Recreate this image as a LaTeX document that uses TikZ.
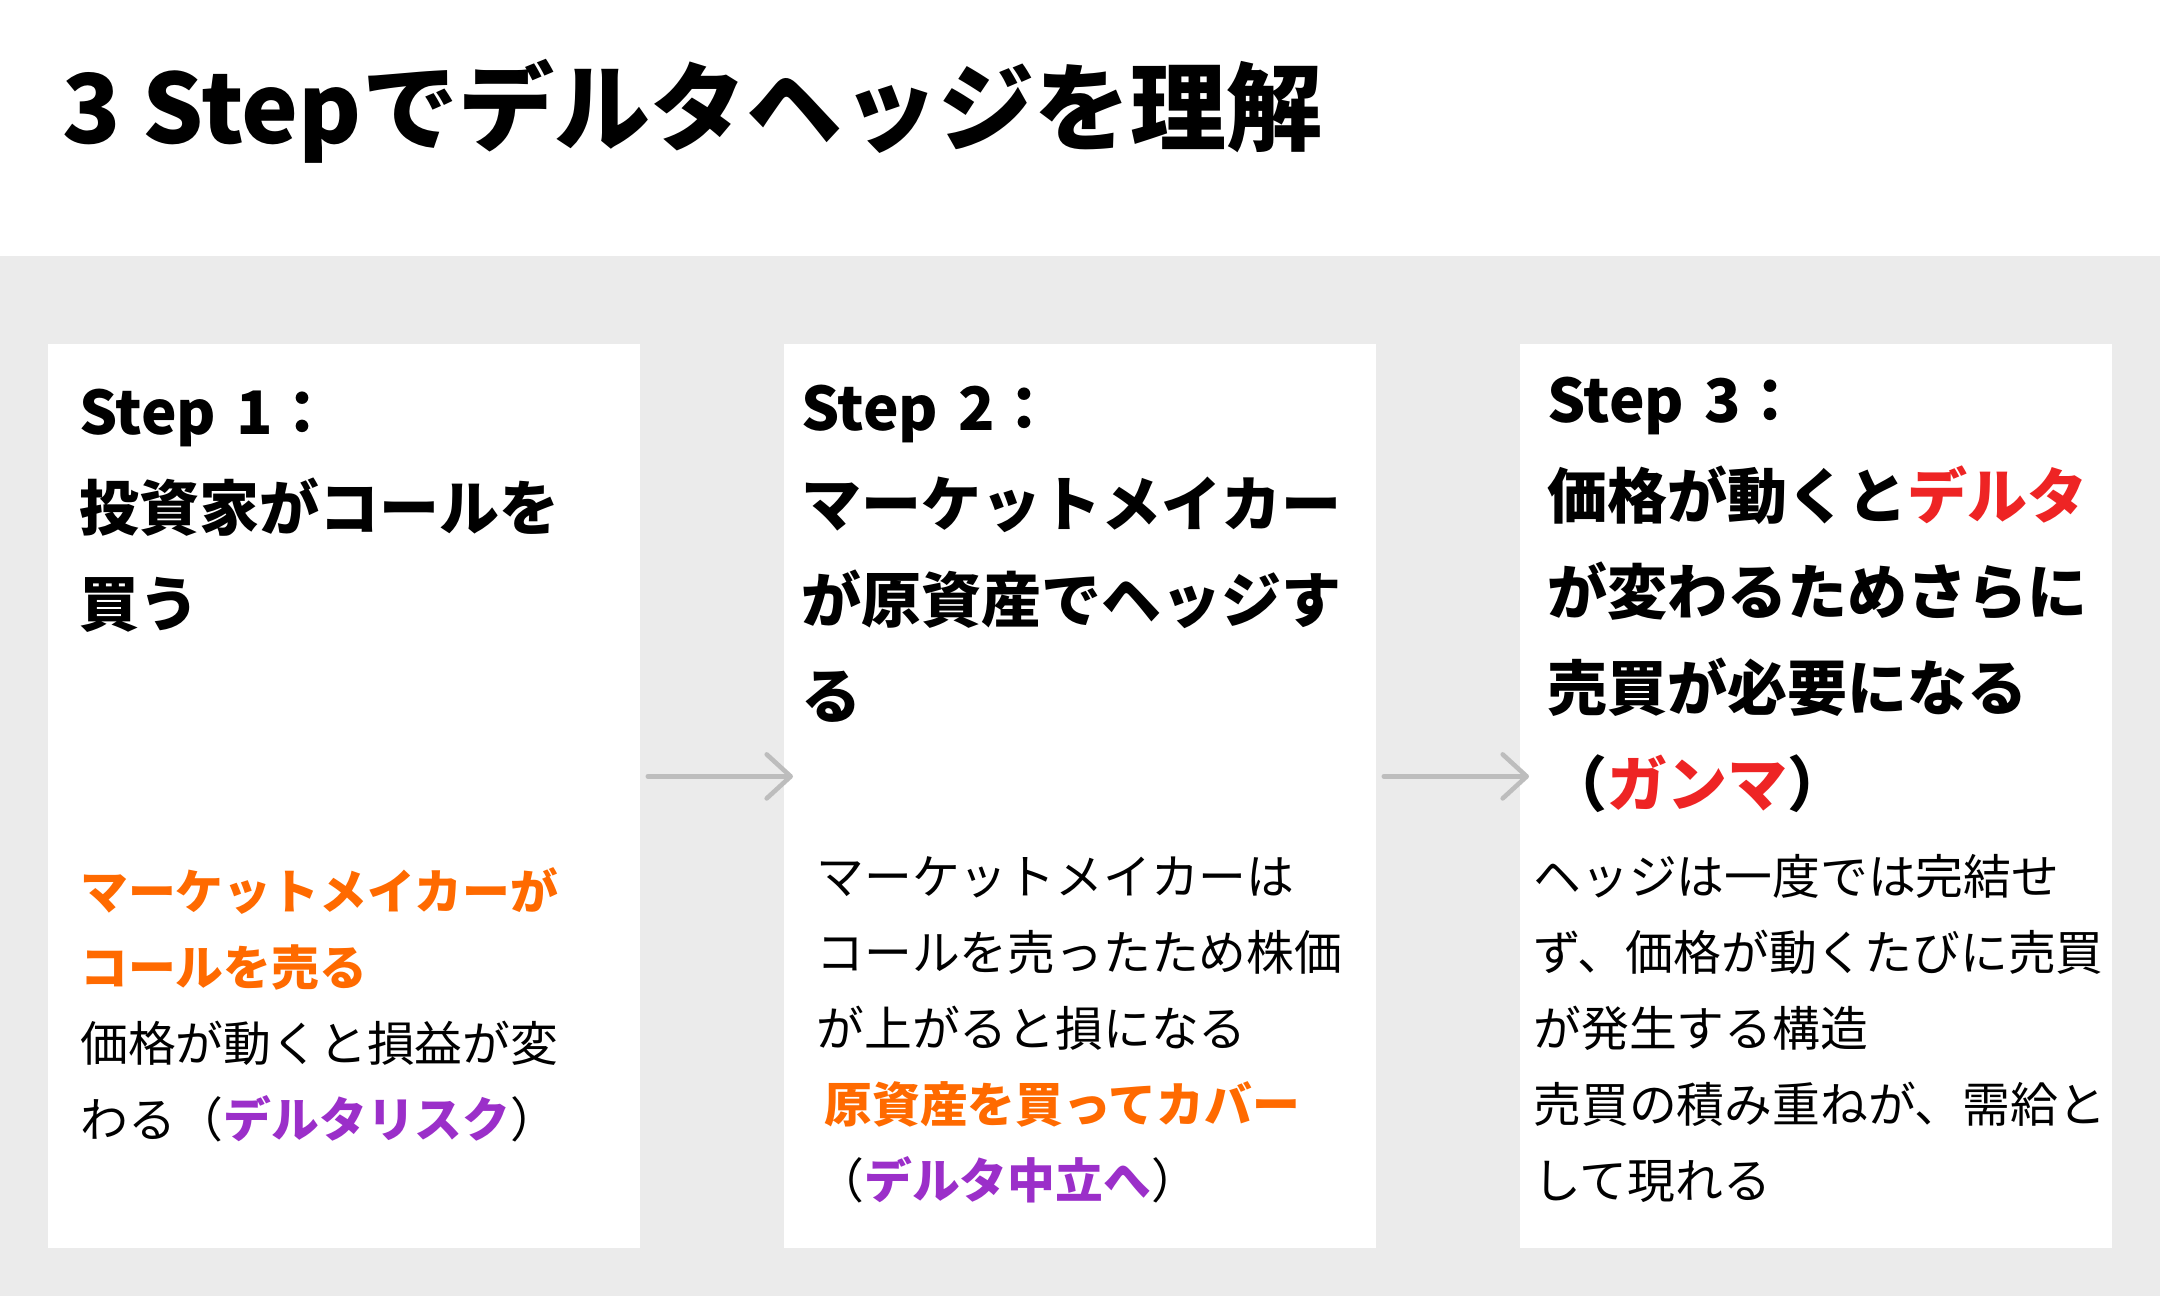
\documentclass[tikz,border=0pt]{standalone}
\usepackage{fontspec}
\setmainfont{Noto Sans CJK JP}
\usetikzlibrary{arrows.meta}

\definecolor{bandgray}{HTML}{EBEBEB}
\definecolor{arrowgray}{HTML}{BDBDBD}
\definecolor{hiorange}{HTML}{FF6A00}
\definecolor{hipurple}{HTML}{9B2FC9}
\definecolor{hired}{HTML}{EE2424}

\newcommand{\orng}[1]{\textbf{\color{hiorange}#1}}
\newcommand{\prpl}[1]{\textbf{\color{hipurple}#1}}
\newcommand{\rd}[1]{{\color{hired}#1}}

\tikzset{
  card/.style={fill=white, minimum width=296pt, minimum height=452pt, inner sep=0pt, anchor=north west},
  head/.style={anchor=base west, inner sep=0pt, text width=292pt, align=left,
    font=\fontsize{30pt}{48pt}\selectfont\bfseries},
  body/.style={anchor=base west, inner sep=0pt, text width=292pt, align=left,
    font=\fontsize{23.9pt}{38pt}\selectfont},
  flow/.style={draw=arrowgray, line width=2.3pt, line cap=round,
    -{Straight Barb[length=12pt, width=22pt, line cap=round, line join=round]}},
}

\begin{document}
\begin{tikzpicture}[x=0.5pt, y=-0.5pt]
  \useasboundingbox (0,0) rectangle (2160,1296);
  \fill[bandgray] (0,256) rectangle (2160,1296);
  \node[anchor=base west, inner sep=0pt, font=\fontsize{48pt}{48pt}\selectfont\bfseries] (title) at (62,143) {3 Stepでデルタヘッジを理解};

  % three cards
  \node[card] (c1) at (48,344) {};
  \node[card] (c2) at (784,344) {};
  \node[card] (c3) at (1520,344) {};

  \node[head] (h1) at (79,434) {Step 1：\\投資家がコールを\\買う};
  \node[body] (b1) at (80,909) {\orng{マーケットメイカーが}\\\orng{コールを売る}\\価格が動くと損益が変\\わる（\prpl{デルタリスク}）};

  \node[head] (h2) at (801,430) {Step 2：\\マーケットメイカー\\が原資産でヘッジす\\る};
  \node[body] (b2) at (816,894) {マーケットメイカーは\\コールを売ったため株価\\が上がると損になる\\\hspace{4pt}\orng{原資産を買ってカバー}\\（\prpl{デルタ中立へ}）};

  \node[head] (h3) at (1547,422) {Step 3：\\価格が動くと\rd{デルタ}\\が変わるためさらに\\売買が必要になる\\（\rd{ガンマ}）};
  \node[body] (b3) at (1533,894) {ヘッジは一度では完結せ\\ず、価格が動くたびに売買\\が発生する構造\\売買の積み重ねが、需給と\\して現れる};

  \draw[flow] ([xshift=3.5pt,yshift=10pt]c1.east) -- ([xshift=4.5pt,yshift=10pt]c2.west);
  \draw[flow] ([xshift=3.5pt,yshift=10pt]c2.east) -- ([xshift=4.5pt,yshift=10pt]c3.west);
\end{tikzpicture}
\end{document}
